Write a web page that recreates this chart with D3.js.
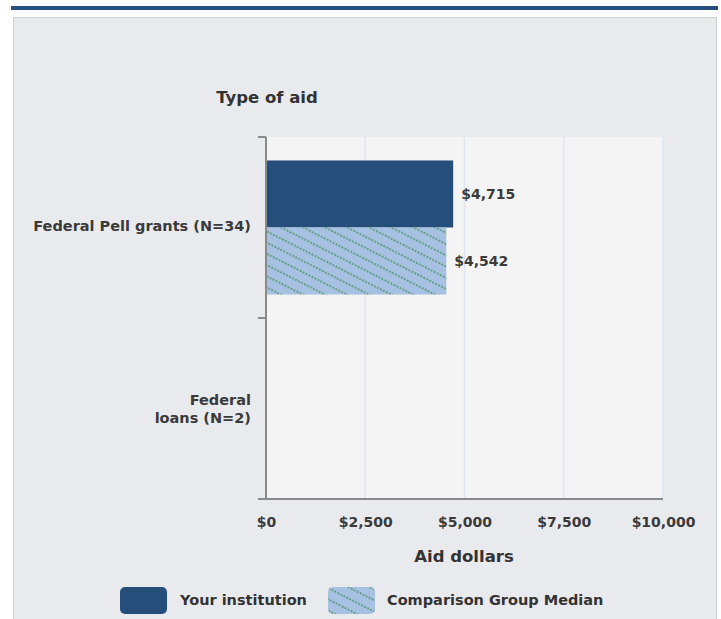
<!DOCTYPE html>
<html><head><meta charset="utf-8">
<script src="https://cdn.jsdelivr.net/npm/d3@7"></script>
<style>
html,body{margin:0;padding:0;background:#fff;}
svg{display:block;font-family:"DejaVu Sans",Verdana,sans-serif;}
</style></head>
<body><svg id="c" width="721" height="619"></svg>
<script>
const categories = ["Federal Pell grants (N=34)", "Federal loans (N=2)"];
const categoryLines = [["Federal Pell grants (N=34)"], ["Federal", "loans (N=2)"]];
const seriesNames = ["Your institution", "Comparison Group Median"];
const yourInstitution = [4715, null];
const comparisonMedian = [4542, null];
const xTicks = [0, 2500, 5000, 7500, 10000];

(function(){
const FONT = "'DejaVu Sans',Verdana,sans-serif";
const svg = d3.select("#c");
const defs = svg.append("defs");
const pat = defs.append("pattern").attr("id","hatch").attr("patternUnits","userSpaceOnUse")
  .attr("width",10).attr("height",10).attr("patternTransform","rotate(27)");
pat.append("rect").attr("width",10).attr("height",10).attr("fill","#a6c1e1");
pat.append("line").attr("x1",0).attr("y1",5).attr("x2",10).attr("y2",5)
  .attr("stroke","#3d8a52").attr("stroke-width",1.7).attr("stroke-dasharray","1.6,1.7");

// top band and panel
svg.append("rect").attr("x",11).attr("y",6).attr("width",707).attr("height",4).attr("fill","#264f7c");
svg.append("rect").attr("x",13.5).attr("y",17.5).attr("width",703).attr("height",620)
  .attr("fill","#e9eaee").attr("stroke","#cfd0d3").attr("stroke-width",1);

const pLeft = 266, pRight = 663, pTop = 137, pBottom = 499;
const x = d3.scaleLinear().domain([0,10000]).range([pLeft,pRight]);
const y = d3.scaleBand().domain(categories).range([pTop,pBottom]).paddingInner(0).paddingOuter(0);
const sub = d3.scaleBand().domain(seriesNames).range([0,y.bandwidth()]).paddingInner(0).paddingOuter(0.35);

svg.append("rect").attr("x",pLeft).attr("y",pTop).attr("width",pRight-pLeft).attr("height",pBottom-pTop).attr("fill","#f4f4f5");

// gridlines
svg.append("g").selectAll("line").data(xTicks.slice(1)).join("line")
  .attr("x1",d=>x(d)).attr("x2",d=>x(d)).attr("y1",pTop).attr("y2",pBottom)
  .attr("stroke","#dfe4ef").attr("stroke-width",1.5);

// bars
const rows = categories.map((c,i)=>({c, v:[yourInstitution[i], comparisonMedian[i]]}));
const g = svg.append("g");
rows.forEach(r=>{
  r.v.forEach((v,j)=>{
    if (v==null) return;
    const yy = y(r.c)+sub(seriesNames[j]);
    g.append("rect").attr("x",x(0)).attr("y",yy).attr("width",x(v)-x(0)).attr("height",sub.bandwidth())
      .attr("fill", j===0 ? "#254e7b" : "url(#hatch)");
    g.append("text").attr("x",x(v)+8).attr("y",yy+sub.bandwidth()/2)
      .attr("dy","0.35em").attr("font-size",14).attr("font-weight","bold").attr("fill","#3a3a3a")
      .text(d3.format("$,")(v));
  });
});

// axes
const xAxis = svg.append("g").attr("transform",`translate(0,${pBottom})`)
  .call(d3.axisBottom(x).tickValues(xTicks).tickFormat(d3.format("$,")).tickSize(0).tickPadding(18));
xAxis.select(".domain").remove();
xAxis.selectAll("text").attr("font-size",14).attr("font-weight","bold").attr("fill","#3a3a3a")
  .attr("font-family",FONT);
svg.append("line").attr("x1",258).attr("x2",pRight).attr("y1",pBottom).attr("y2",pBottom).attr("stroke","#8a8a8a").attr("stroke-width",2);
svg.append("line").attr("x1",pLeft).attr("x2",pLeft).attr("y1",pTop).attr("y2",pBottom).attr("stroke","#8a8a8a").attr("stroke-width",2);
[pTop, y(categories[1])].forEach(t=>{
  svg.append("line").attr("x1",258).attr("x2",pLeft).attr("y1",t).attr("y2",t).attr("stroke","#8a8a8a").attr("stroke-width",2);
});

// category labels
categories.forEach((c,i)=>{
  const lines = categoryLines[i];
  const cy = y(c)+y.bandwidth()/2 - (i===0?2:0);
  const t = svg.append("text").attr("x",251).attr("text-anchor","end").attr("font-size",14.5)
    .attr("font-weight","bold").attr("fill","#3a3a3a");
  lines.forEach((l,k)=>{
    t.append("tspan").attr("x",251).attr("y",cy + (k-(lines.length-1)/2)*18).attr("dy","0.35em").text(l);
  });
});

svg.append("text").attr("x",267).attr("y",97).attr("dy","0.35em").attr("text-anchor","middle")
  .attr("font-size",16.5).attr("font-weight","bold").attr("fill","#333").text("Type of aid");
svg.append("text").attr("x",464).attr("y",556).attr("dy","0.35em").attr("text-anchor","middle")
  .attr("font-size",16.5).attr("font-weight","bold").attr("fill","#333").text("Aid dollars");

// legend
const leg = [{n:seriesNames[0], x:120, tx:180, f:"#254e7b"},{n:seriesNames[1], x:328, tx:387, f:"url(#hatch)"}];
leg.forEach(l=>{
  svg.append("rect").attr("x",l.x).attr("y",587).attr("width",47).attr("height",27).attr("rx",5).attr("fill",l.f);
  svg.append("text").attr("x",l.tx).attr("y",600).attr("dy","0.35em").attr("font-size",14.5)
    .attr("font-weight","bold").attr("fill","#333").text(l.n);
});
})();
</script></body></html>
